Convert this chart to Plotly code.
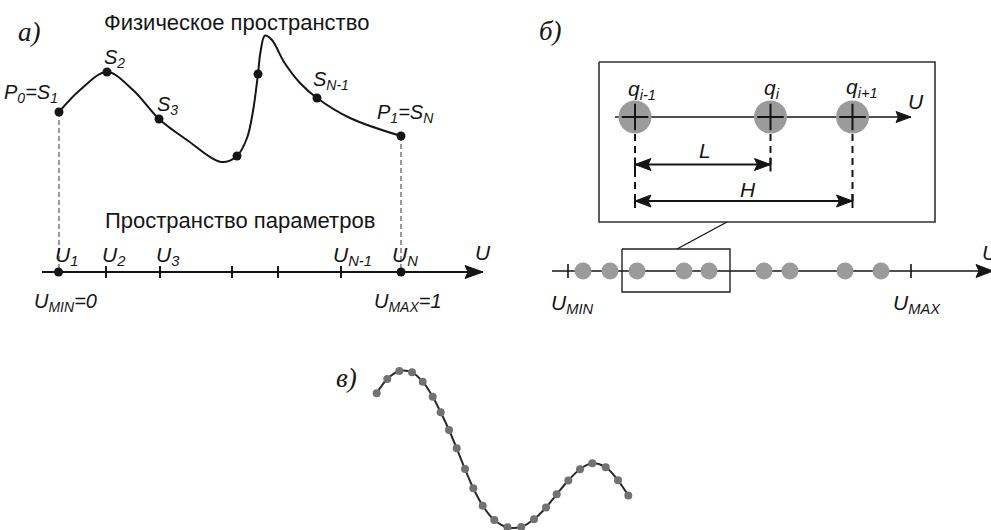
import plotly.graph_objects as go

SANS = "Liberation Sans, Arial, sans-serif"
SERIF = "Liberation Serif, Times New Roman, serif"
INK = "#151515"
GREY = "#9b9b9b"

# ================= DATA =================
# ---- panel а : physical space ----
curve_a_x = [59, 80, 107, 133, 159, 187, 221, 237, 247, 253, 258, 260.5, 265, 272, 284, 300, 317, 350, 401]
curve_a_y = [112, 90, 72, 90, 119, 140, 162, 156, 138, 111, 74, 52, 35.5, 40, 62, 83, 98, 118, 136]
nodes_a_x = [59, 107, 159, 237, 258, 317, 401]
nodes_a_y = [112, 72, 119, 156, 74, 98, 136]
node_a_text = ["<i>P<sub>0</sub>=S<sub>1</sub></i>", "<i>S<sub>2</sub></i>", "<i>S<sub>3</sub></i>",
               "<i>S<sub>N-1</sub></i>", "<i>P<sub>1</sub>=S<sub>N</sub></i>"]
node_a_text_x = [2, 102, 155, 311, 375]
node_a_text_y = [93, 58, 105, 80, 113]

# ---- panel а : parameter space ----
u_axis_x = [42, 483]
u_axis_y = 272
u_nodes = [58.5, 401]
u_ticks = [106, 160, 232, 278, 341]
u_text = ["<i>U<sub>1</sub></i>", "<i>U<sub>2</sub></i>", "<i>U<sub>3</sub></i>",
          "<i>U<sub>N-1</sub></i>", "<i>U<sub>N</sub></i>", "<i>U</i>"]
u_text_x = [53, 100, 154, 331, 390, 473]
u_text_y = [256, 256, 256, 256, 256, 252]
u_ends_text = ["<i>U<sub>MIN</sub>=0</i>", "<i>U<sub>MAX</sub>=1</i>"]
u_ends_text_x = [32, 372]

# ---- panel б ----
zoom_box_x = [599, 935]
zoom_box_y = [62, 222]
inner_axis_x = [615, 911]
inner_axis_y = 117
q_x = [635, 770.5, 852.5]
q_text = ["<i>q<sub>i-1</sub></i>", "<i>q<sub>i</sub></i>", "<i>q<sub>i+1</sub></i>"]
L_span = [635, 770.5]
L_y = 164.5
H_span = [635, 852.5]
H_y = 201
b_axis_x = [552, 993]
b_axis_y = 271
b_ticks = [568, 911]
b_nodes = [583, 610, 637, 684, 709, 764, 790, 845, 881]
small_box_x = [622, 730]
small_box_y = [249, 292]
connector_x = [677, 727]
connector_y = [249, 222]

# ---- panel в ----
c_x = [376.7, 387.3, 399.3, 412, 422.7, 432.7, 440.7, 449, 456.7, 465, 473.3, 482.7,
       494.3, 507.5, 521.3, 534, 546, 556.7, 568.3, 580, 592.3, 605.7, 618, 628.3]
c_y = [393.3, 379, 371, 372.3, 381.7, 396.7, 412.3, 430, 448.3, 469, 488.3, 505.7,
       520, 527.3, 527, 519.2, 507.5, 494.3, 480.5, 469.2, 463.3, 467.2, 480.3, 495.5]

# ================= FIGURE =================
fig = go.Figure()


def line(xs, ys, width=2, color=INK, dash=None, shape="linear"):
    fig.add_trace(go.Scatter(x=xs, y=ys, mode="lines", hoverinfo="skip",
                             line=dict(width=width, color=color, dash=dash, shape=shape)))


def arrowhead(xt, yt, direction=1, length=16, half=6, notch=3):
    d = direction
    xs = [xt, xt - d * length, xt - d * (length - notch), xt - d * length, xt]
    ys = [yt, yt - half, yt, yt + half, yt]
    fig.add_trace(go.Scatter(x=xs, y=ys, mode="lines", fill="toself", fillcolor=INK,
                             line=dict(width=1, color=INK), hoverinfo="skip"))


def dots(xs, ys, size, color, symbol="circle", lw=0, lc=INK):
    fig.add_trace(go.Scatter(x=xs, y=ys, mode="markers", hoverinfo="skip",
                             marker=dict(size=size, color=color, symbol=symbol,
                                         line=dict(width=lw, color=lc))))


annotations = []


def text(x, y, s, size=18, family=SANS, xanchor="left", yanchor="middle"):
    annotations.append(dict(x=x, y=y, xref="x", yref="y", text=s, showarrow=False,
                            xanchor=xanchor, yanchor=yanchor,
                            font=dict(family=family, size=size, color=INK)))


# ---- panel а ----
# dashed projections
line([nodes_a_x[0], nodes_a_x[0]], [nodes_a_y[0], u_axis_y], width=1.2, color="#555", dash="5px,3px")
line([nodes_a_x[-1], nodes_a_x[-1]], [nodes_a_y[-1], u_axis_y], width=1.2, color="#555", dash="5px,3px")
line(curve_a_x, curve_a_y, width=2, shape="spline")
dots(nodes_a_x, nodes_a_y, 9, INK)

line(u_axis_x, [u_axis_y, u_axis_y], width=2)
arrowhead(u_axis_x[1], u_axis_y, 1, length=18, half=6.5, notch=3)
for t in u_ticks:
    line([t, t], [u_axis_y - 6, u_axis_y + 6], width=2)
dots(u_nodes, [u_axis_y] * len(u_nodes), 9, INK)

text(16, 32, "<i>а)</i>", size=27, family=SERIF)
text(102, 22, "Физическое пространство", size=22)
text(103, 220, "Пространство параметров", size=22)
for s, x, y in zip(node_a_text, node_a_text_x, node_a_text_y):
    text(x, y, s, size=20)
for s, x, y in zip(u_text, u_text_x, u_text_y):
    text(x, y, s, size=21)
for s, x in zip(u_ends_text, u_ends_text_x):
    text(x, 302, s, size=20)

# ---- panel б ----
bx0, bx1 = zoom_box_x
by0, by1 = zoom_box_y
line([bx0, bx1, bx1, bx0, bx0], [by0, by0, by1, by1, by0], width=1.6, color="#333")
line(inner_axis_x, [inner_axis_y, inner_axis_y], width=1.4)
arrowhead(inner_axis_x[1], inner_axis_y, 1, length=15, half=5.5, notch=2.5)
# dashed drops
line([q_x[0], q_x[0]], [inner_axis_y + 17, H_y], width=2, dash="7px,5px")
line([q_x[1], q_x[1]], [inner_axis_y + 17, L_y], width=2, dash="7px,5px")
line([q_x[2], q_x[2]], [inner_axis_y + 17, H_y], width=2, dash="7px,5px")
dots(q_x, [inner_axis_y] * 3, 33, GREY)
dots(q_x, [inner_axis_y] * 3, 19, INK, symbol="cross-thin", lw=2, lc=INK)
# L and H dimension arrows
for (xa, xb), yy in ((L_span, L_y), (H_span, H_y)):
    line([xa, xb], [yy, yy], width=2)
    arrowhead(xa, yy, -1, length=16, half=6, notch=3)
    arrowhead(xb, yy, 1, length=16, half=6, notch=3)
    line([xa, xa], [yy - 7, yy + 7], width=2)
    line([xb, xb], [yy - 7, yy + 7], width=2)

text(537, 31, "<i>б)</i>", size=27, family=SERIF)
q_text_x = [626, 762, 844]
q_text_y = [90, 89, 88]
for s, x, y in zip(q_text, q_text_x, q_text_y):
    text(x, y, s, size=21)
text(906, 101, "<i>U</i>", size=21)
text(697, 150, "<i>L</i>", size=21)
text(738, 189, "<i>H</i>", size=21)

# main axis of б
line(connector_x, connector_y, width=1.4)
line(b_axis_x, [b_axis_y, b_axis_y], width=1.6)
arrowhead(b_axis_x[1], b_axis_y, 1, length=17, half=6.5, notch=3)
for t in b_ticks:
    line([t, t], [b_axis_y - 7, b_axis_y + 7], width=1.6)
dots(b_nodes, [b_axis_y] * len(b_nodes), 17, GREY)
sx0, sx1 = small_box_x
sy0, sy1 = small_box_y
line([sx0, sx1, sx1, sx0, sx0], [sy0, sy0, sy1, sy1, sy0], width=1.4, color="#222")
text(549, 304, "<i>U<sub>MIN</sub></i>", size=21)
text(891, 304, "<i>U<sub>MAX</sub></i>", size=21)
text(980, 252, "<i>U</i>", size=21)

# ---- panel в ----
line(c_x, c_y, width=2, color="#2a2a2a", shape="spline")
dots(c_x, c_y, 8, "#727272")
text(334, 378, "<i>в)</i>", size=27, family=SERIF)

fig.update_layout(
    width=991, height=530, autosize=False,
    margin=dict(l=0, r=0, t=0, b=0, pad=0),
    paper_bgcolor="white", plot_bgcolor="white",
    showlegend=False,
    annotations=annotations,
    xaxis=dict(range=[0, 991], visible=False, fixedrange=True),
    yaxis=dict(range=[530, 0], visible=False, fixedrange=True),
)
fig.write_html("out.html", config={"displayModeBar": False})
